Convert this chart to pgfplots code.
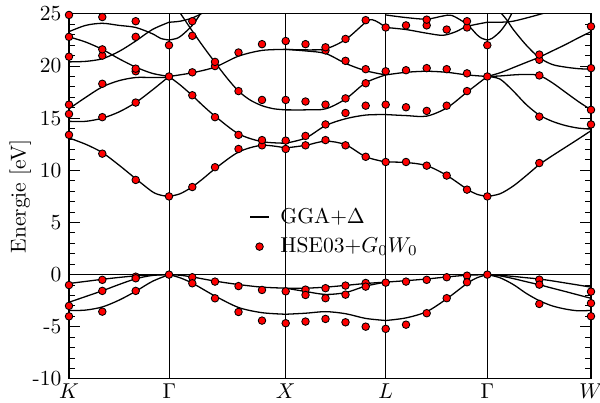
\documentclass[border=0pt]{standalone}
\usepackage{pgfplots}
\pgfplotsset{compat=1.18}
\pgfplotsset{
  band/.style={black, line width=0.6pt, smooth, no marks, forget plot},
  sym/.style={black, line width=0.45pt, no marks, forget plot},
  dots/.style={only marks, mark=*, mark size=1.75pt, mark options={fill=red, draw=black, line width=0.4pt}, forget plot},
}
\pgfplotstableread{
x y
69 -1.0
69 -3.0
69 -4.0
69 13.4
69 15.4
69 16.3
69 20.9
69 22.8
69 24.9
102.3 -0.5
102.3 -1.56
102.3 -3.55
102.3 11.6
102.3 15.1
102.3 18.3
102.3 21.0
102.3 21.6
102.3 24.7
135.7 -0.2
135.7 -0.35
135.7 -1.56
135.7 9.08
135.7 16.5
135.7 19.5
135.7 19.75
135.7 22.8
135.7 24.3
169 0
169 7.5
169 19.0
169 22.0
192.3 -0.25
192.3 -0.83
192.3 8.4
192.3 17.2
192.3 19.4
192.3 22.9
192.3 24.3
215 -0.67
215 -2.27
215 10.3
215 15.1
215 20.0
215 20.4
238.5 -1.1
238.5 -3.58
238.5 12.05
238.5 13.4
238.5 17.6
238.5 21.3
262 -1.47
262 -4.41
262 12.4
262 12.9
262 16.75
262 22.1
285.7 -1.6
285.7 -4.66
285.7 12.05
285.7 12.85
285.7 16.75
285.7 22.4
305.5 -1.44
305.5 -1.95
305.5 -4.5
305.5 12.4
305.5 13.3
305.5 16.6
305.5 22.1
325.5 -1.3
325.5 -2.26
325.5 -4.25
325.5 12.9
325.5 14.4
325.5 16.3
325.5 21.5
325.5 21.8
345.5 -1.05
345.5 -1.92
345.5 -4.57
345.5 12.4
345.5 15.5
345.5 16.9
345.5 20.5
345.5 22.6
365.7 -0.8
365.7 -1.15
365.7 -4.99
365.7 11.3
365.7 16.2
365.7 18.35
365.7 19.7
365.7 24.4
385.7 -0.77
385.7 -5.2
385.7 10.8
385.7 16.3
385.7 19.5
385.7 23.7
406 -0.67
406 -4.8
406 10.8
406 16.05
406 19.6
406 23.9
426.7 -0.5
426.7 -3.7
426.7 10.45
426.7 15.7
426.7 19.8
426.7 23.9
426.7 24.45
446.7 -0.25
446.7 -2.26
446.7 9.5
446.7 16.2
446.7 19.7
446.7 23.5
467 -0.1
467 -0.73
467 8.15
467 17.6
467 19.3
467 23.7
467 24.3
487.3 0
487.3 7.5
487.3 19.0
487.3 22.0
539.3 -0.48
539.3 -0.96
539.3 -2.81
539.3 10.7
539.3 15.15
539.3 19.1
539.3 20.6
539.3 21.1
591 -1.63
591 -2.74
591 -3.99
591 14.4
591 15.8
591 19.8
591 23.8
}\hsedata
\begin{document}
\begin{tikzpicture}
\begin{axis}[
  scale only axis,
  width=242.73pt, height=169.73pt,
  xmin=69, xmax=591, ymin=-10, ymax=25,
  xtick={69,169.4,285.7,385.7,487.3,591},
  xticklabels={$K$,$\Gamma$,$X$,$L$,$\Gamma$,$W$},
  xtick style={draw=none},
  xticklabel style={yshift=1.2pt},
  ytick={-10,-5,0,5,10,15,20,25},
  yticklabels={-10,-5,0,5,10,15,20,25},
  minor y tick num=4,
  tick align=inside,
  ytick pos=both,
  yticklabel pos=left,
  major tick length=5pt,
  minor tick length=2.6pt,
  every tick/.style={black, line width=0.5pt},
  axis line style={line width=0.5pt},
  ylabel={Energie [eV]},
  ylabel shift=-6pt,
  legend style={at={(0.333,0.494)}, anchor=north west, draw=none, fill=none, font=\normalsize, row sep=1.2pt},
  legend cell align=left,
  legend image code/.code={\draw[mark repeat=2,mark phase=2,#1] plot coordinates {(0cm,0cm) (0.15cm,0cm) (0.3cm,0cm)}; \path (0.41cm,0cm);},
]
% symmetry lines
\addplot[sym] coordinates {(69,0) (591,0)};
\addplot[sym] coordinates {(169.4,-10) (169.4,25)};
\addplot[sym] coordinates {(285.7,-10) (285.7,25)};
\addplot[sym] coordinates {(385.7,-10) (385.7,25)};
\addplot[sym] coordinates {(487.3,-10) (487.3,25)};
% ---------- K - Gamma
\addplot[band] coordinates {(69,-0.85) (85.7,-0.65) (102.3,-0.45) (119,-0.27) (135.7,-0.12) (152.3,-0.03) (169,0)};
\addplot[band] coordinates {(69,-2.65) (85.7,-2.1) (102.3,-1.55) (119,-0.95) (135.7,-0.4) (152.3,-0.08) (169,0)};
\addplot[band] coordinates {(69,-3.45) (85.7,-3.4) (102.3,-3.1) (119,-2.45) (135.7,-1.6) (152.3,-0.65) (169,0)};
\addplot[band] coordinates {(69,13.1) (85.7,12.5) (102.3,11.7) (119,10.5) (135.7,9.2) (152.3,7.95) (160.7,7.62) (169,7.5)};
\addplot[band] coordinates {(69,14.7) (85.7,14.7) (102.3,15.0) (119,15.6) (135.7,16.5) (152.3,17.7) (169,19.0)};
\addplot[band] coordinates {(69,15.9) (85.7,17.0) (102.3,18.0) (119,18.6) (135.7,18.9) (152.3,18.9) (169,18.9)};
\addplot[band] coordinates {(69,22.8) (85.7,22.3) (102.3,21.6) (119,20.7) (135.7,19.9) (152.3,19.3) (169,19.0)};
\addplot[band] coordinates {(69,20.4) (85.7,20.45) (102.3,20.7) (119,21.4) (135.7,22.4) (152.3,23.5) (169,24.2)};
\addplot[band] coordinates {(69,23.3) (85.7,23.9) (102.3,24.1) (119,23.9) (135.7,23.7) (152.3,23.1) (160.7,22.65) (169,22.5)};
% ---------- Gamma - X
\addplot[band] coordinates {(169,0) (180,-0.06) (192,-0.22) (215,-0.62) (238.5,-0.95) (262,-1.2) (285.7,-1.3)};
\addplot[band] coordinates {(169,0) (180,-0.3) (192,-0.8) (203,-1.4) (215,-2.05) (238.5,-3.15) (262,-3.65) (285.7,-3.8)};
\addplot[band] coordinates {(169,7.5) (180,7.75) (192,8.4) (203,9.2) (215,10.15) (238.5,11.75) (262,12.4) (285.7,12.15)};
\addplot[band] coordinates {(169,19.0) (180,18.2) (192,17.2) (203,16.2) (215,15.2) (238.5,13.5) (262,12.75) (285.7,12.6)};
\addplot[band] coordinates {(169,19.0) (192,19.35) (215,19.9) (238.5,20.95) (262,21.5) (285.7,21.6)};
\addplot[band] coordinates {(178,25.4) (192,23.4) (203,21.9) (215,20.35) (227,18.85) (238.5,17.6) (250,16.75) (262,16.2) (274,15.9) (285.7,15.8)};
\addplot[band] coordinates {(169,22.5) (178,22.7) (186,23.3) (194,24.1) (201,25.1)};
\addplot[band] coordinates {(169,24.2) (180,24.3) (192,24.6) (203,25.1)};
% ---------- X - L
\addplot[band] coordinates {(285.7,-1.3) (305.7,-1.3) (325.7,-1.2) (345.7,-1.03) (365.7,-0.85) (385.7,-0.72)};
\addplot[band] coordinates {(285.7,-1.3) (305.7,-1.62) (325.7,-1.9) (345.7,-1.72) (365.7,-1.1) (385.7,-0.72)};
\addplot[band] coordinates {(285.7,-3.8) (305.7,-3.7) (325.7,-3.55) (345.7,-3.75) (365.7,-4.2) (385.7,-4.4)};
\addplot[band] coordinates {(285.7,12.15) (305.7,12.4) (325.7,12.8) (345.7,12.45) (365.7,11.3) (385.7,10.8)};
\addplot[band] coordinates {(285.7,12.6) (305.7,13.1) (325.7,14.3) (345.7,14.95) (365.7,15.3) (385.7,15.35)};
\addplot[band] coordinates {(285.7,15.8) (305.7,15.8) (325.7,15.9) (345.7,16.85) (365.7,18.4) (385.7,19.15)};
\addplot[band] coordinates {(285.7,21.6) (305.7,21.45) (325.7,21.2) (345.7,20.25) (365.7,19.55) (385.7,19.15)};
\addplot[band] coordinates {(285.7,21.6) (305.7,21.55) (325.7,21.65) (345.7,22.55) (365.7,24.2) (372,24.45) (379,24.15) (385.7,23.7)};
% ---------- L - Gamma
\addplot[band] coordinates {(385.7,-0.72) (406,-0.58) (426.7,-0.42) (447,-0.22) (467,-0.06) (487.3,0)};
\addplot[band] coordinates {(385.7,-4.4) (406,-4.15) (426.7,-3.55) (447,-2.3) (467,-0.85) (477,-0.3) (487.3,0)};
\addplot[band] coordinates {(385.7,10.8) (406,10.75) (426.7,10.45) (447,9.5) (467,8.2) (477,7.7) (487.3,7.5)};
\addplot[band] coordinates {(385.7,15.35) (406,15.25) (426.7,15.2) (447,16.0) (467,17.5) (487.3,19.0)};
\addplot[band] coordinates {(385.7,19.15) (406,19.4) (426.7,19.5) (447,19.4) (467,19.15) (487.3,19.0)};
\addplot[band] coordinates {(385.7,23.7) (406,23.5) (426.7,23.15) (443,22.95) (456,23.3) (467,23.8) (487.3,24.2)};
\addplot[band] coordinates {(385.7,24.9) (406,24.65) (426.7,24.5) (443,24.8) (452,24.85) (467,24.0) (477,23.0) (482,22.65) (487.3,22.5)};
% ---------- Gamma - W
\addplot[band] coordinates {(487.3,0) (500,-0.07) (513.3,-0.17) (526.3,-0.3) (539.3,-0.42) (552.3,-0.6) (565.3,-0.8) (578.3,-1.0) (591,-1.2)};
\addplot[band] coordinates {(487.3,0) (500,-0.12) (513.3,-0.38) (526.3,-0.68) (539.3,-0.97) (552.3,-1.3) (565.3,-1.62) (578.3,-1.95) (591,-2.27)};
\addplot[band] coordinates {(487.3,0) (500,-0.3) (513.3,-0.95) (526.3,-1.8) (539.3,-2.5) (552.3,-3.0) (565.3,-3.3) (578.3,-3.47) (591,-3.43)};
\addplot[band] coordinates {(487.3,7.5) (500,7.75) (513.3,8.5) (526.3,9.5) (539.3,10.55) (552.3,11.4) (565.3,12.2) (578.3,13.0) (591,13.8)};
\addplot[band] coordinates {(487.3,19.0) (500,18.75) (513.3,17.6) (526.3,16.3) (539.3,15.3) (552.3,14.7) (565.3,14.3) (578.3,14.05) (591,13.95)};
\addplot[band] coordinates {(487.3,19.0) (500,19.05) (513.3,19.15) (526.3,19.2) (539.3,19.1) (552.3,18.4) (565.3,17.5) (578.3,16.6) (591,15.8)};
\addplot[band] coordinates {(487.3,19.0) (500,19.35) (513.3,19.85) (526.3,20.35) (539.3,20.85) (552.3,21.45) (565.3,22.05) (578.3,22.7) (591,23.3)};
\addplot[band] coordinates {(500,25.2) (507,24.4) (513.3,23.5) (526.3,22.0) (539.3,20.8) (552.3,20.15) (565.3,19.9) (578.3,19.75) (591,19.7)};
\addplot[band] coordinates {(487.3,22.5) (492,22.65) (500,23.3) (507,24.2) (512,25.1)};
\addplot[band] coordinates {(487.3,24.2) (500,24.2) (513,24.3) (530,24.7) (545,25.1)};
% ---------- HSE03+G0W0 points
\addplot[dots] table {\hsedata};
% legend
\addlegendimage{black, line width=0.6pt}
\addlegendentry{GGA$+\Delta$}
\addlegendimage{only marks, mark=*, mark size=1.75pt, mark options={fill=red, draw=black, line width=0.4pt}}
\addlegendentry{HSE03$+G_0W_0$}
\end{axis}
\pgfresetboundingbox
\path ([shift={(-32.09pt,-11.2pt)}]current axis.south west) rectangle ([shift={(246.92pt,176.2pt)}]current axis.south west);
\end{tikzpicture}
\end{document}
